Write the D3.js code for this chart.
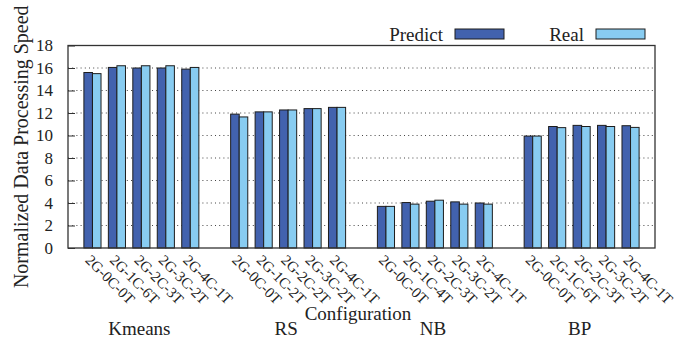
<!DOCTYPE html>
<html>
<head>
<meta charset="utf-8">
<script src="https://cdn.jsdelivr.net/npm/d3@7/dist/d3.min.js"></script>
<style>
  html, body { margin: 0; padding: 0; background: #fff; }
  svg { display: block; }
  text { font-family: "Liberation Serif", "Times New Roman", serif; fill: #222; }
</style>
</head>
<body>
<svg id="chart" width="694" height="347"></svg>
<script>
// Workloads and the configuration of each bar pair
const workloads = ["Kmeans", "RS", "NB", "BP"];
const configsKmeans = ["2G-0C-0T", "2G-1C-6T", "2G-2C-3T", "2G-3C-2T", "2G-4C-1T"];
const configsRS     = ["2G-0C-0T", "2G-1C-2T", "2G-2C-2T", "2G-3C-2T", "2G-4C-1T"];
const configsNB     = ["2G-0C-0T", "2G-1C-4T", "2G-2C-3T", "2G-3C-2T", "2G-4C-1T"];
const configsBP     = ["2G-0C-0T", "2G-1C-6T", "2G-2C-3T", "2G-3C-2T", "2G-4C-1T"];

// Normalized data processing speed
const predictKmeans = [15.6, 16.05, 16.0, 16.0, 15.9];
const realKmeans    = [15.5, 16.2, 16.2, 16.2, 16.05];
const predictRS     = [11.9, 12.1, 12.27, 12.39, 12.5];
const realRS        = [11.65, 12.1, 12.27, 12.39, 12.5];
const predictNB     = [3.7, 4.04, 4.16, 4.1, 4.0];
const realNB        = [3.7, 3.9, 4.25, 3.9, 3.9];
const predictBP     = [9.95, 10.8, 10.9, 10.9, 10.87];
const realBP        = [9.95, 10.7, 10.8, 10.8, 10.72];

const yTicks = [0, 2, 4, 6, 8, 10, 12, 14, 16, 18];
const seriesNames = ["Predict", "Real"];
const colors = { Predict: "#4262ae", Real: "#88ccf1" };

const configs = [configsKmeans, configsRS, configsNB, configsBP];
const predicts = [predictKmeans, predictRS, predictNB, predictBP];
const reals = [realKmeans, realRS, realNB, realBP];

// One slot per configuration, one empty slot between workloads
const rows = [];
workloads.forEach((w, g) => {
  configs[g].forEach((c, i) => {
    rows.push({ workload: w, config: c, slot: g * 6 + i, Predict: predicts[g][i], Real: reals[g][i] });
  });
});

const svg = d3.select("#chart");
const plotLeft = 68, plotRight = 655, plotTop = 45.5, plotBottom = 248;

const x = d3.scaleLinear().domain([-1, 23]).range([plotLeft, plotRight]);
const y = d3.scaleLinear().domain([0, 18]).range([plotBottom, plotTop]);
const slotW = x(1) - x(0);
const barW = slotW * 0.35;

// Dotted grid
svg.append("g").selectAll("line")
  .data(yTicks.filter(t => t > 0 && t < 18))
  .join("line")
  .attr("x1", plotLeft).attr("x2", plotRight)
  .attr("y1", d => y(d)).attr("y2", d => y(d))
  .attr("stroke", "#444").attr("stroke-width", 1)
  .attr("stroke-dasharray", "1,3.2");

// Bars
const barG = svg.append("g");
seriesNames.forEach((s, k) => {
  barG.selectAll("rect." + s)
    .data(rows)
    .join("rect")
    .attr("class", s)
    .attr("x", d => x(d.slot) - barW + k * barW)
    .attr("width", barW)
    .attr("y", d => y(d[s]))
    .attr("height", d => y(0) - y(d[s]))
    .attr("fill", colors[s])
    .attr("stroke", "#1d1d1d")
    .attr("stroke-width", 1);
});

// Y axis (ticks pointing inward)
const yAxis = d3.axisLeft(y).tickValues(yTicks).tickSize(-7).tickPadding(15);
const yg = svg.append("g").attr("transform", `translate(${plotLeft},0)`).call(yAxis);
yg.select(".domain").remove();
yg.selectAll(".tick line").attr("stroke", "#333");
yg.selectAll(".tick text")
  .attr("font-family", "Liberation Serif, serif")
  .attr("font-size", 17).attr("fill", "#222");

// Frame
svg.append("rect")
  .attr("x", plotLeft).attr("y", plotTop)
  .attr("width", plotRight - plotLeft).attr("height", plotBottom - plotTop)
  .attr("fill", "none").attr("stroke", "#333").attr("stroke-width", 1.3);

// Rotated configuration labels
svg.append("g").selectAll("text")
  .data(rows)
  .join("text")
  .attr("transform", d => `translate(${x(d.slot) - 8},${plotBottom + 13}) rotate(45)`)
  .attr("font-size", 15)
  .text(d => d.config);

// Workload names
svg.append("g").selectAll("text")
  .data(workloads)
  .join("text")
  .attr("x", (d, g) => x(g * 6 + 2) - 2)
  .attr("y", 335)
  .attr("text-anchor", "middle")
  .attr("font-size", 19)
  .text(d => d);

// Axis titles
svg.append("text")
  .attr("x", 358).attr("y", 320)
  .attr("text-anchor", "middle")
  .attr("font-size", 19)
  .text("Configuration");

svg.append("text")
  .attr("transform", `translate(28,${(plotTop + plotBottom) / 2}) rotate(-90)`)
  .attr("text-anchor", "middle")
  .attr("font-size", 20)
  .text("Normalized Data Processing Speed");

// Legend
const legend = [
  { name: "Predict", textEnd: 443, box: 455 },
  { name: "Real", textEnd: 584, box: 596 }
];
const lg = svg.append("g");
legend.forEach(l => {
  lg.append("text")
    .attr("x", l.textEnd).attr("y", 41)
    .attr("text-anchor", "end")
    .attr("font-size", 19)
    .text(l.name);
  lg.append("rect")
    .attr("x", l.box).attr("y", 29)
    .attr("width", 49).attr("height", 10)
    .attr("fill", colors[l.name])
    .attr("stroke", "#1d1d1d").attr("stroke-width", 1);
});
</script>
</body>
</html>
